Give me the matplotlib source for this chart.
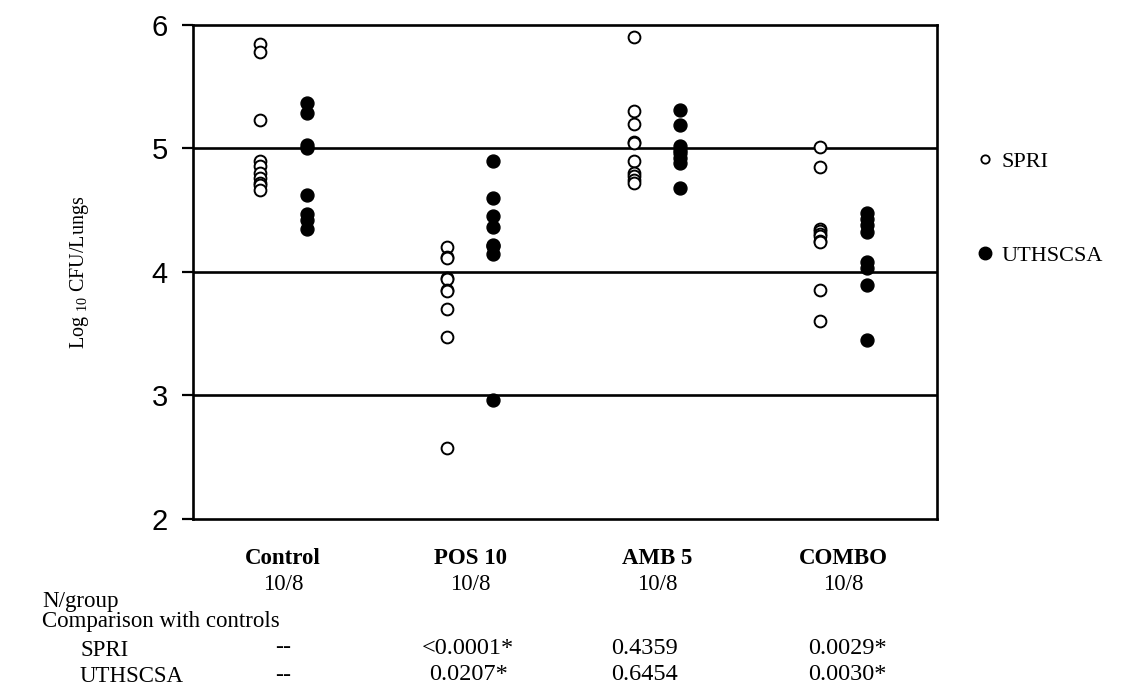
import matplotlib
matplotlib.use("Agg")
import matplotlib.pyplot as plt
import matplotlib.transforms as mtransforms
from matplotlib.lines import Line2D

# ---- data ----
groups = ["Control", "POS 10", "AMB 5", "COMBO"]
n_per_group = ["10/8", "10/8", "10/8", "10/8"]
p_spri = ["--", "<0.0001*", "0.4359", "0.0029*"]
p_uthscsa = ["--", "0.0207*", "0.6454", "0.0030*"]

spri = [
    [5.85, 5.78, 5.23, 4.90, 4.86, 4.80, 4.76, 4.72, 4.70, 4.66],
    [4.20, 4.12, 4.11, 3.95, 3.94, 3.85, 3.84, 3.70, 3.47, 2.57],
    [5.90, 5.30, 5.20, 5.05, 5.04, 4.90, 4.80, 4.78, 4.74, 4.72],
    [5.01, 4.85, 4.35, 4.33, 4.31, 4.29, 4.25, 4.24, 3.85, 3.60],
]
uthscsa = [
    [5.37, 5.29, 5.03, 5.00, 4.62, 4.47, 4.42, 4.35],
    [4.90, 4.60, 4.45, 4.36, 4.22, 4.21, 4.14, 2.96],
    [5.31, 5.19, 5.02, 4.99, 4.96, 4.92, 4.88, 4.68],
    [4.48, 4.43, 4.38, 4.32, 4.08, 4.03, 3.89, 3.45],
]
yticks = [2, 3, 4, 5, 6]
hlines = [3, 4, 5]

plt.rcParams["mathtext.fontset"] = "custom"
plt.rcParams["mathtext.rm"] = "Liberation Serif"
plt.rcParams["mathtext.it"] = "Liberation Serif:italic"

SERIF = "Liberation Serif"
SANS = "Liberation Sans"
W, H = 1126.0, 696.0

fig = plt.figure(figsize=(11.26, 6.96), dpi=100)
ax = fig.add_axes([192.7 / W, 1 - 518.5 / H, (937.3 - 192.7) / W, (518.5 - 25) / H])

off = 0.125
for i in range(len(groups)):
    ax.plot([i - off] * len(spri[i]), spri[i], linestyle="none", marker="o",
            markersize=8.5, markerfacecolor="white", markeredgecolor="black",
            markeredgewidth=1.4, zorder=3)
    ax.plot([i + off] * len(uthscsa[i]), uthscsa[i], linestyle="none", marker="o",
            markersize=9.3, markerfacecolor="black", markeredgecolor="black",
            markeredgewidth=1.0, zorder=3)

for h in hlines:
    ax.axhline(h, color="black", linewidth=1.9, zorder=2)

ax.set_xlim(-0.485, 3.501)
ax.set_ylim(2, 6)
ax.set_xticks([])
ax.set_yticks(yticks)
ax.set_yticklabels([str(t) for t in yticks], fontfamily=SANS, fontsize=21)
ax.tick_params(axis="y", direction="out", length=8, width=1.6, pad=10)
for s in ax.spines.values():
    s.set_linewidth(1.9)
    s.set_color("black")

ax.set_ylabel(r"Log $_{10}$ CFU/Lungs", fontfamily=SERIF, fontsize=14.5)
ax.yaxis.set_label_coords((91 - 192.7) / (937.3 - 192.7), 0.5)

# ---- table under the chart ----
trans = mtransforms.blended_transform_factory(ax.transData, fig.transFigure)
def fy(py):
    return 1 - py / H

fs = 16.5
fs_p = 17.5
p_shift = [0.0, -0.01, -0.065, 0.02]
for i, g in enumerate(groups):
    ax.text(i, fy(559), g, transform=trans, ha="center", va="center",
            fontfamily=SERIF, fontweight="bold", fontsize=fs)
    ax.text(i, fy(585), n_per_group[i], transform=trans, ha="center", va="center",
            fontfamily=SERIF, fontsize=fs)
    ax.text(i + p_shift[i], fy(648), p_spri[i], transform=trans, ha="center",
            va="center", fontfamily=SERIF, fontsize=fs_p)
    ax.text(i + p_shift[i], fy(675), p_uthscsa[i], transform=trans, ha="center",
            va="center", fontfamily=SERIF, fontsize=fs_p)

fig.text(42 / W, fy(601), "N/group", ha="left", va="center",
         fontfamily=SERIF, fontsize=fs)
fig.text(42 / W, fy(622), "Comparison with controls", ha="left", va="center",
         fontfamily=SERIF, fontsize=fs)
fig.text(80 / W, fy(651), "SPRI", ha="left", va="center",
         fontfamily=SERIF, fontsize=fs)
fig.text(80 / W, fy(677), "UTHSCSA", ha="left", va="center",
         fontfamily=SERIF, fontsize=fs)

# ---- legend ----
handles = [
    Line2D([], [], linestyle="none", marker="o", markersize=6,
           markerfacecolor="white", markeredgecolor="black", markeredgewidth=1.3),
    Line2D([], [], linestyle="none", marker="o", markersize=9,
           markerfacecolor="black", markeredgecolor="black"),
]
leg = fig.legend(handles, ["SPRI", "UTHSCSA"], loc="upper left",
                 bbox_to_anchor=(965 / W, fy(140)), frameon=False,
                 prop={"family": SERIF, "size": 16}, labelspacing=3.3,
                 handlelength=0.8, handletextpad=0.35, borderpad=0)

fig.savefig("out.png", dpi=100)
